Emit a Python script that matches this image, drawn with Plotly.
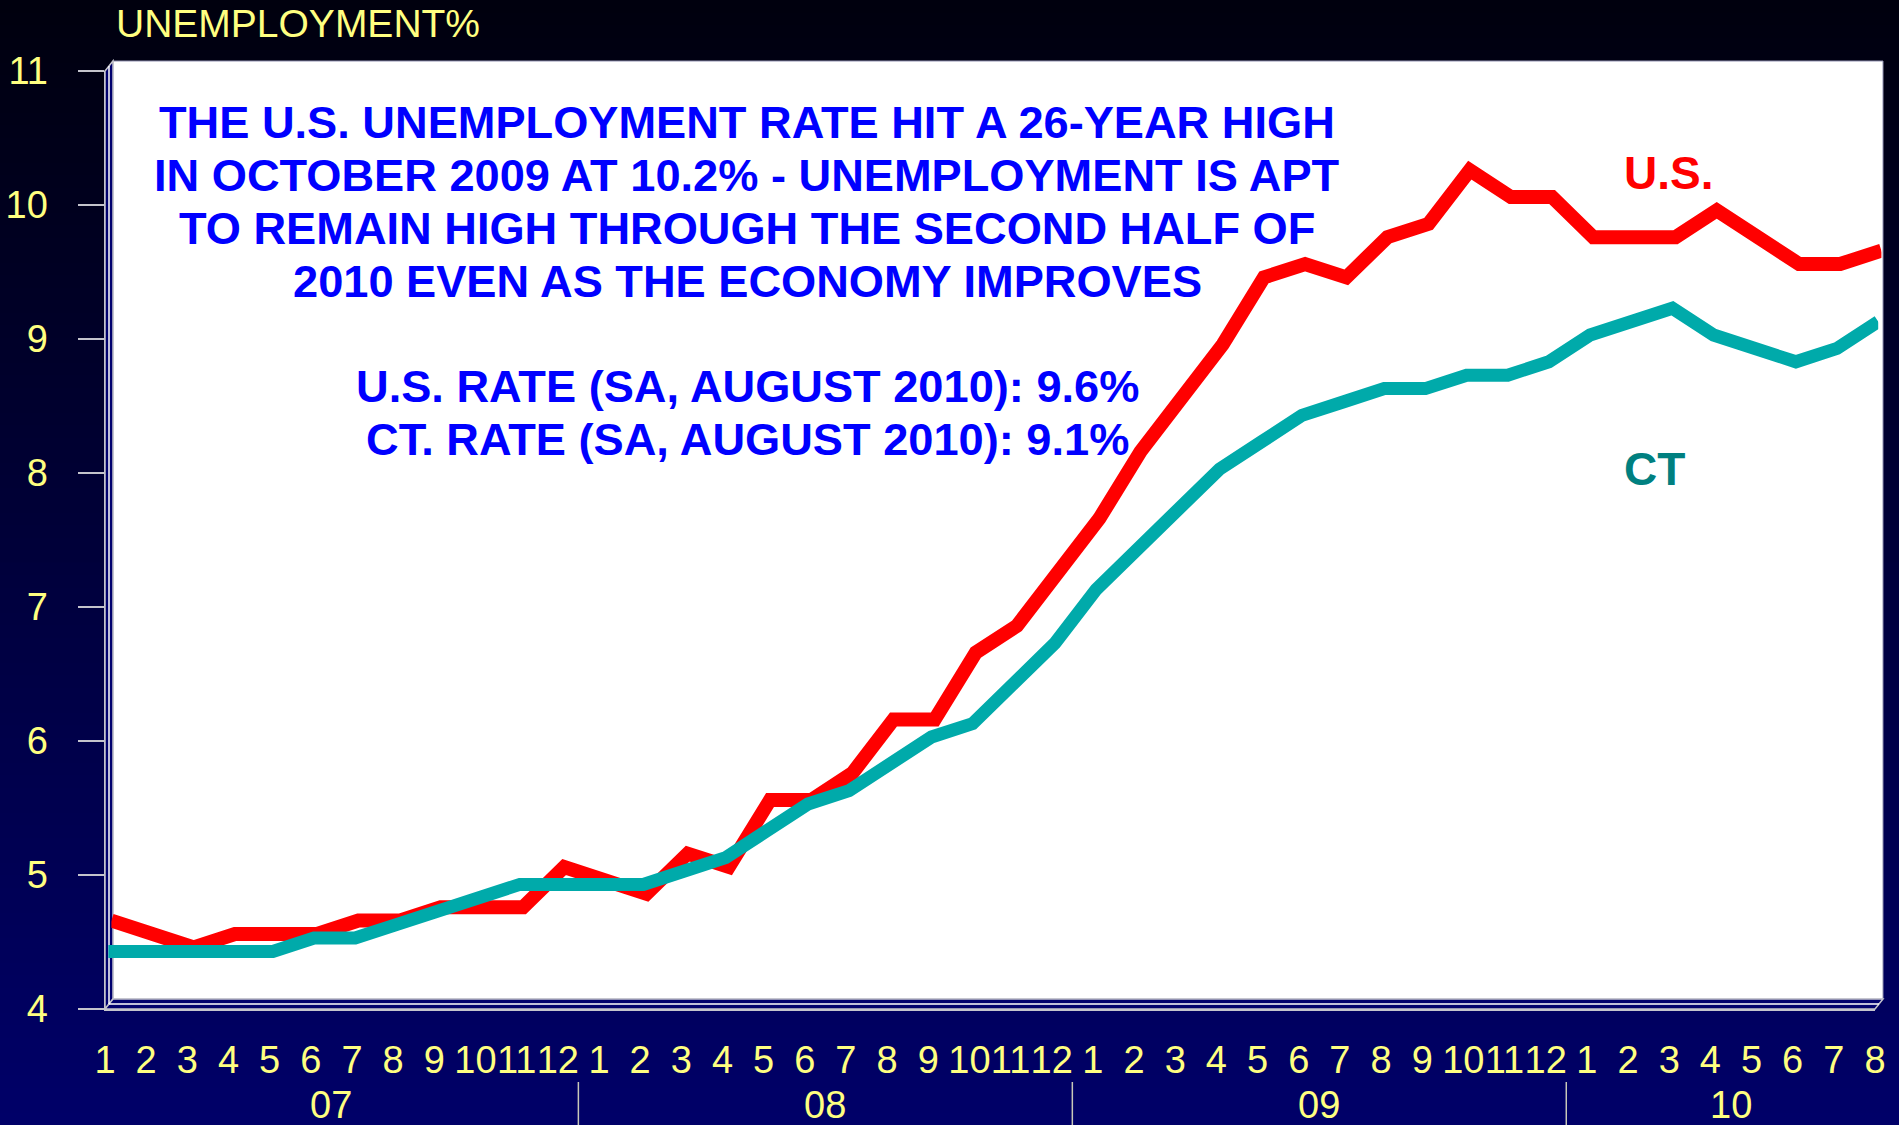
import plotly.graph_objects as go

# ---------------- data ----------------
months = ["1", "2", "3", "4", "5", "6", "7", "8", "9", "10", "11", "12",
          "1", "2", "3", "4", "5", "6", "7", "8", "9", "10", "11", "12",
          "1", "2", "3", "4", "5", "6", "7", "8", "9", "10", "11", "12",
          "1", "2", "3", "4", "5", "6", "7", "8"]
years = (["07"] * 12) + (["08"] * 12) + (["09"] * 12) + (["10"] * 8)

us_rate = [4.6, 4.5, 4.4, 4.5, 4.5, 4.5, 4.6, 4.6, 4.7, 4.7, 4.7, 5.0,
           4.9, 4.8, 5.1, 5.0, 5.5, 5.5, 5.7, 6.1, 6.1, 6.6, 6.8, 7.2,
           7.6, 8.1, 8.5, 8.9, 9.4, 9.5, 9.4, 9.7, 9.8, 10.2, 10.0, 10.0,
           9.7, 9.7, 9.7, 9.9, 9.7, 9.5, 9.5, 9.6]
ct_rate = [4.4, 4.4, 4.4, 4.4, 4.4, 4.5, 4.5, 4.6, 4.7, 4.8, 4.9, 4.9,
           4.9, 4.9, 5.0, 5.1, 5.3, 5.5, 5.6, 5.8, 6.0, 6.1, 6.4, 6.7,
           7.1, 7.4, 7.7, 8.0, 8.2, 8.4, 8.5, 8.6, 8.6, 8.7, 8.7, 8.8,
           9.0, 9.1, 9.2, 9.0, 8.9, 8.8, 8.9, 9.1]
y_ticks = [4, 5, 6, 7, 8, 9, 10, 11]

title_text = "UNEMPLOYMENT%"
note_lines = ["THE U.S. UNEMPLOYMENT RATE HIT A 26-YEAR HIGH",
              "IN OCTOBER 2009 AT 10.2% - UNEMPLOYMENT IS APT",
              "TO REMAIN HIGH THROUGH THE SECOND HALF OF",
              "2010 EVEN AS THE ECONOMY IMPROVES",
              "",
              "U.S. RATE (SA, AUGUST 2010): 9.6%",
              "CT. RATE (SA, AUGUST 2010): 9.1%"]

# ---------------- geometry (pixels) ----------------
W, H = 1899, 1125
X_FIRST, X_LAST = 105, 1875      # front plane: first / last month
Y_LOW, Y_HIGH = 1009, 71         # front plane: value 4 / value 11
DX, DY = 8, -10                  # depth of the 3-D box
FONT = "Liberation Sans, Arial, sans-serif"
YELLOW = "#FFFF80"
EDGE = "#C4C4CC"


def fx(p):
    return p / W


def fy(p):
    return 1 - p / H


def domains(f):
    return ([fx(X_FIRST + f * DX), fx(X_LAST + f * DX)],
            [fy(Y_LOW + f * DY), fy(Y_HIGH + f * DY)])


idx = list(range(len(months)))
xr = [0, len(months) - 1]
yr = [y_ticks[0], y_ticks[-1]]

fig = go.Figure()

# red (US) sits deeper in the box, teal (CT) nearer the front
fig.add_trace(go.Scatter(x=idx, y=us_rate, xaxis="x3", yaxis="y3", mode="lines",
                         line=dict(color="#FF0000", width=14), name="U.S.",
                         hoverinfo="skip"))
fig.add_trace(go.Scatter(x=idx, y=ct_rate, xaxis="x4", yaxis="y4", mode="lines",
                         line=dict(color="#00AAAA", width=13), name="CT",
                         hoverinfo="skip"))

dx0, dy0 = domains(0)
dx1, dy1 = domains(1)
dx3, dy3 = domains(0.8)
dx4, dy4 = domains(0.4)

layout = dict(
    width=W, height=H,
    margin=dict(l=0, r=0, t=0, b=0, pad=0),
    paper_bgcolor="#000018",
    plot_bgcolor="rgba(0,0,0,0)",
    showlegend=False,
    font=dict(family=FONT, color=YELLOW),
    xaxis=dict(domain=dx0, range=xr, anchor="y", tickmode="array",
               tickvals=idx, ticktext=months, ticks="", tickangle=0,
               showgrid=False, zeroline=False, showline=True, linecolor=EDGE,
               linewidth=1.5, tickfont=dict(size=38, color=YELLOW, family=FONT),
               ticklabelstandoff=17, automargin=False, fixedrange=True),
    yaxis=dict(domain=dy0, range=yr, anchor="x", tickmode="array",
               tickvals=y_ticks, ticks="outside", ticklen=26, tickwidth=1.5,
               tickcolor=EDGE, showgrid=False, zeroline=False, showline=True,
               linecolor=EDGE, linewidth=1.5,
               tickfont=dict(size=38, color=YELLOW, family=FONT),
               ticklabelstandoff=22, automargin=False, fixedrange=True),
    xaxis2=dict(domain=dx1, range=xr, anchor="y2", visible=False, fixedrange=True),
    yaxis2=dict(domain=dy1, range=yr, anchor="x2", tickmode="array",
                tickvals=y_ticks[1:], showticklabels=False, ticks="",
                showgrid=True, gridcolor="#6E6EF5", gridwidth=1.3, griddash="dot",
                zeroline=False, showline=False, automargin=False, fixedrange=True),
    xaxis3=dict(domain=dx3, range=xr, anchor="y3", visible=False, fixedrange=True),
    yaxis3=dict(domain=dy3, range=yr, anchor="x3", visible=False, fixedrange=True),
    xaxis4=dict(domain=dx4, range=xr, anchor="y4", visible=False, fixedrange=True),
    yaxis4=dict(domain=dy4, range=yr, anchor="x4", visible=False, fixedrange=True),
)
fig.update_layout(**layout)

shapes = []
# background gradient (near-black at top to navy at bottom)
N = 90
top_c, bot_c = (0, 0, 14), (0, 0, 104)
for i in range(N):
    t = i / (N - 1)
    c = tuple(round(top_c[k] + (bot_c[k] - top_c[k]) * t) for k in range(3))
    shapes.append(dict(type="rect", xref="paper", yref="paper", layer="below",
                       x0=0, x1=1, y0=fy(H * (i + 1) / N + 1), y1=fy(H * i / N),
                       fillcolor="rgb(%d,%d,%d)" % c, line=dict(width=0)))
# back wall
shapes.append(dict(type="rect", xref="paper", yref="paper", layer="below",
                   x0=fx(X_FIRST + DX), x1=fx(X_LAST + DX),
                   y0=fy(Y_LOW + DY), y1=fy(Y_HIGH + DY),
                   fillcolor="#FFFFFF", line=dict(color="#9090B0", width=1)))


def path(points):
    return "M " + " L ".join("%f,%f" % (fx(a), fy(b)) for a, b in points) + " Z"


WALL = "#00006E"
# left wall
shapes.append(dict(type="path", xref="paper", yref="paper", layer="below",
                   path=path([(X_FIRST, Y_LOW), (X_FIRST, Y_HIGH),
                              (X_FIRST + DX, Y_HIGH + DY), (X_FIRST + DX, Y_LOW + DY)]),
                   fillcolor=WALL, line=dict(color=EDGE, width=1.5)))
# floor
shapes.append(dict(type="path", xref="paper", yref="paper", layer="below",
                   path=path([(X_FIRST, Y_LOW), (X_LAST, Y_LOW),
                              (X_LAST + DX, Y_LOW + DY), (X_FIRST + DX, Y_LOW + DY)]),
                   fillcolor=WALL, line=dict(color=EDGE, width=1.5)))
# bevel highlight lines in the middle of wall and floor
mx, my = X_FIRST + DX / 2, Y_LOW + DY / 2
shapes.append(dict(type="line", xref="paper", yref="paper", layer="below",
                   x0=fx(mx), x1=fx(mx), y0=fy(my), y1=fy(Y_HIGH + DY / 2),
                   line=dict(color="#FFFFFF", width=1.5)))
shapes.append(dict(type="line", xref="paper", yref="paper", layer="below",
                   x0=fx(mx), x1=fx(X_LAST + DX / 2), y0=fy(my), y1=fy(my),
                   line=dict(color="#FFFFFF", width=1.5)))

# year dividers
for i in range(1, len(years)):
    if years[i] != years[i - 1]:
        shapes.append(dict(type="line", xref="x", yref="paper", layer="above",
                           x0=i - 0.5, x1=i - 0.5, y0=fy(1082), y1=0,
                           line=dict(color="#C8C8B8", width=1.5)))
fig.update_layout(shapes=shapes)

annotations = []
# year labels
for yv in sorted(set(years), key=years.index):
    ids = [i for i, v in enumerate(years) if v == yv]
    annotations.append(dict(x=sum(ids) / len(ids), xref="x", y=fy(1105), yref="paper",
                            text=yv, showarrow=False, xanchor="center", yanchor="middle",
                            font=dict(size=38, color=YELLOW, family=FONT)))
# axis title
annotations.append(dict(x=fx(114), y=fy(24), xref="paper", yref="paper",
                        text=title_text, showarrow=False, xanchor="left",
                        yanchor="middle", font=dict(size=39, color=YELLOW, family=FONT)))
# note text
for k, line in enumerate(note_lines):
    if not line:
        continue
    annotations.append(dict(x=fx(747), y=fy(123 + 52.8 * k), xref="paper", yref="paper",
                            text="<b>%s</b>" % line, showarrow=False, xanchor="center",
                            yanchor="middle", font=dict(size=45.2, color="#0000FF", family=FONT)))
# series labels
annotations.append(dict(x=fx(1668), y=fy(173), xref="paper", yref="paper",
                        text="<b>U.S.</b>", showarrow=False, xanchor="center",
                        yanchor="middle", font=dict(size=46, color="#FF0000", family=FONT)))
annotations.append(dict(x=fx(1654), y=fy(469), xref="paper", yref="paper",
                        text="<b>CT</b>", showarrow=False, xanchor="center",
                        yanchor="middle", font=dict(size=46, color="#008080", family=FONT)))
fig.update_layout(annotations=annotations)

fig.write_html("out.html", config=dict(displayModeBar=False, staticPlot=True),
               post_script="document.body.style.margin='0';document.body.style.overflow='hidden';document.body.style.background='#000018';")
